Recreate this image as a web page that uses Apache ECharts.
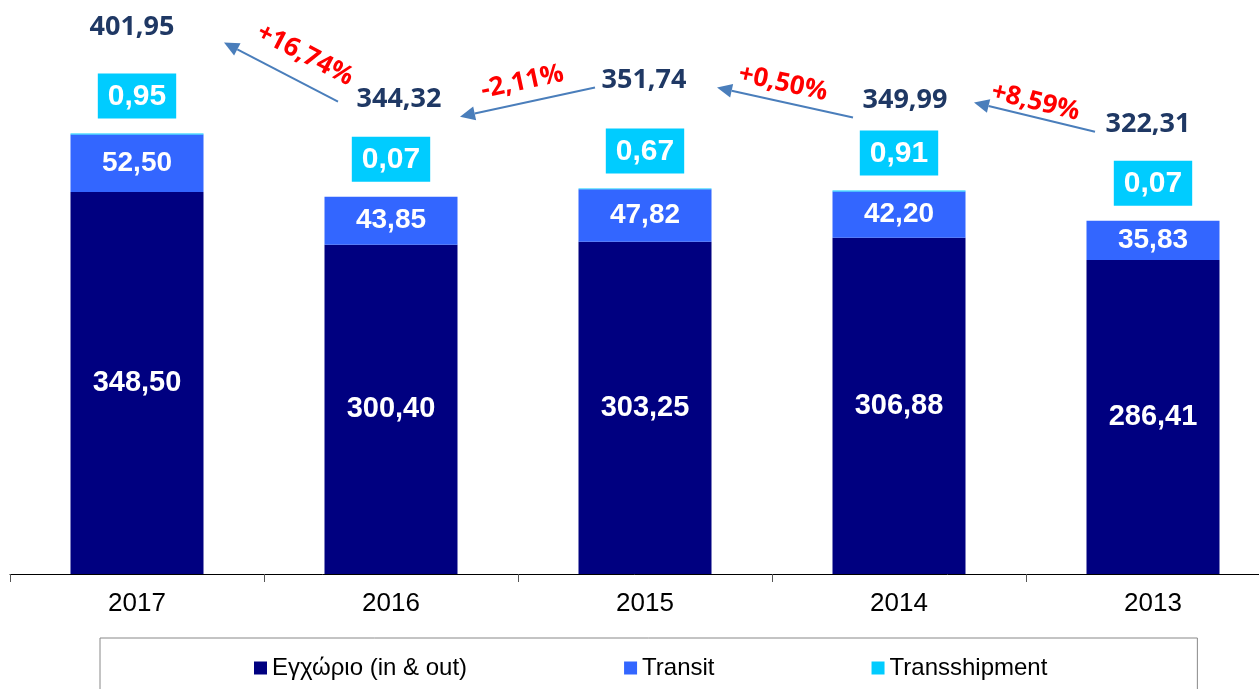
<!DOCTYPE html>
<html>
<head>
<meta charset="utf-8">
<title>Διακίνηση</title>
<script src="https://cdn.jsdelivr.net/npm/echarts@6/dist/echarts.min.js"></script>
<style>
  html, body { margin: 0; padding: 0; background: #fff; }
  #main { width: 1259px; height: 689px; }
</style>
</head>
<body>
<div id="main"></div>
<script>
// categories (years, newest first as in the original)
var years = ['2017', '2016', '2015', '2014', '2013'];

// series values
var domestic = [348.50, 300.40, 303.25, 306.88, 286.41];   // Εγχώριο (in & out)
var transit = [52.50, 43.85, 47.82, 42.20, 35.83];
var transshipment = [0.95, 0.07, 0.67, 0.91, 0.07];

// totals = sum of the three stacks
var totals = years.map(function (y, i) {
  return Math.round((domestic[i] + transit[i] + transshipment[i]) * 100) / 100;
});

/* label placement (pixels) */
var totalOffsets = [[-5, -106], [8, -97], [-1, -108], [6, -90], [-5, -96]];
// arrow start offset from right year's top, tip offset from left year's top
var arrowOffsets = [
  [-53, -95, 87, -91],
  [-50, -101, 69, -80],
  [-46, -73, 72, -101],
  [-58, -89, 75, -88]
];
var pctOffsets = [[24, -17], [-5, -20], [-2, -19], [1, -15]];

function fmt(v) {
  return v.toFixed(2).replace('.', ',');
}

var barFont = 'Liberation Sans, Arial, sans-serif';
var calFont = 'Open Sans, sans-serif';
var chart = echarts.init(document.getElementById('main'));

chart.setOption({
  animation: false,
  grid: { left: 10, width: 1270, top: 26, bottom: 115, outerBoundsMode: 'none', containLabel: false },
  legend: {
    left: 100,
    top: 638,
    padding: [18, 150, 20, 154],
    borderColor: '#888',
    borderWidth: 1,
    itemWidth: 13,
    itemHeight: 13,
    itemGap: 157,
    icon: 'rect',
    textStyle: { fontFamily: barFont, fontSize: 24, color: '#000' },
    data: ['Εγχώριο (in & out)', 'Transit', 'Transshipment']
  },
  xAxis: {
    type: 'category',
    data: years,
    axisLine: { show: true, lineStyle: { color: '#000', width: 1 } },
    axisTick: { show: true, length: 8, lineStyle: { color: '#555' } },
    axisLabel: { fontFamily: barFont, fontSize: 26, color: '#000', margin: 17 }
  },
  yAxis: {
    type: 'value',
    min: 0,
    max: 500,
    show: false
  },
  series: [
    {
      name: 'Εγχώριο (in & out)',
      type: 'bar',
      stack: 'a',
      barWidth: 133,
      data: domestic,
      itemStyle: { color: '#000080' },
      label: {
        show: true,
        position: 'inside',
        color: '#fff',
        textBorderWidth: 0,
        fontFamily: barFont,
        fontWeight: 'bold',
        fontSize: 29,
        formatter: function (p) { return fmt(p.value); }
      }
    },
    {
      name: 'Transit',
      type: 'bar',
      stack: 'a',
      data: transit,
      itemStyle: { color: '#3366FF' },
      label: {
        show: true,
        position: 'inside',
        color: '#fff',
        textBorderWidth: 0,
        fontFamily: barFont,
        fontWeight: 'bold',
        fontSize: 28,
        formatter: function (p) { return fmt(p.value); }
      }
    },
    {
      name: 'Transshipment',
      type: 'bar',
      stack: 'a',
      data: transshipment,
      itemStyle: { color: '#00CCFF' },
      label: {
        show: true,
        position: 'top',
        distance: 15,
        color: '#fff',
        backgroundColor: '#00CCFF',
        padding: [8, 10, 7, 10],
        lineHeight: 30,
        fontFamily: barFont,
        fontWeight: 'bold',
        fontSize: 30,
        formatter: function (p) { return fmt(p.value); }
      }
    },
    {
      // totals above each bar
      name: 'total',
      type: 'scatter',
      symbolSize: 0,
      silent: true,
      itemStyle: { opacity: 1 },
      data: totals.map(function (v, i) {
        return { value: [i, v], label: { offset: totalOffsets[i] } };
      }),
      label: {
        show: true,
        position: 'inside',
        color: '#1F3864',
        textBorderWidth: 0,
        fontFamily: calFont,
        fontWeight: 'bold',
        fontSize: 27,
        formatter: function (p) { return fmt(p.value[1]); }
      }
    },
    {
      // arrows with year-over-year change
      name: 'change',
      type: 'custom',
      silent: true,
      data: [[0, totals[0]], [1, totals[1]], [2, totals[2]], [3, totals[3]]],
      encode: { x: 0, y: 1 },
      renderItem: function (params, api) {
        var i = api.value(0);
        var o = arrowOffsets[i];
        var pL = api.coord([i, totals[i]]);
        var pR = api.coord([i + 1, totals[i + 1]]);
        var x1 = pR[0] + o[0], y1 = pR[1] + o[1];
        var x2 = pL[0] + o[2], y2 = pL[1] + o[3];
        var dx = x2 - x1, dy = y2 - y1;
        var len = Math.sqrt(dx * dx + dy * dy);
        var ux = dx / len, uy = dy / len;
        var hl = 15, hw = 7;
        var bx = x2 - ux * hl, by = y2 - uy * hl;
        var pct = (totals[i] / totals[i + 1] - 1) * 100;
        var txt = (pct >= 0 ? '+' : '') + pct.toFixed(2).replace('.', ',') + '%';
        var ang = Math.atan2(y1 - y2, x1 - x2);
        var mx = (x1 + x2) / 2 + pctOffsets[i][0];
        var my = (y1 + y2) / 2 + pctOffsets[i][1];
        return {
          type: 'group',
          children: [
            {
              type: 'line',
              shape: { x1: x1, y1: y1, x2: bx, y2: by },
              style: { stroke: '#4A7EBB', lineWidth: 2 }
            },
            {
              type: 'polygon',
              shape: { points: [[x2, y2], [bx - uy * hw, by + ux * hw], [bx + uy * hw, by - ux * hw]] },
              style: { fill: '#4A7EBB' }
            },
            {
              type: 'text',
              x: mx,
              y: my,
              rotation: -ang,
              style: {
                text: txt,
                fill: '#FF0000',
                fontFamily: calFont,
                fontWeight: 'bold',
                fontSize: 26,
                align: 'center',
                verticalAlign: 'middle'
              }
            }
          ]
        };
      }
    }
  ]
});
</script>
</body>
</html>
